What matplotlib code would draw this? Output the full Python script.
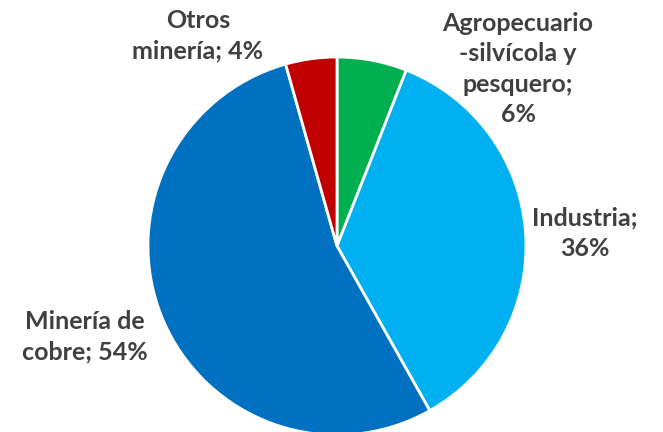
import matplotlib
matplotlib.use("Agg")
import matplotlib.pyplot as plt

# Share of sectors (percent)
labels = ["Agropecuario\n-silvícola y\npesquero;\n6%", "Industria;\n36%",
          "Minería de\ncobre; 54%", "Otros\nminería; 4%"]
values = [6, 36, 54, 4.4]
colors = ["#00B050", "#00B0F0", "#0070C0", "#C00000"]

W, H = 663, 432
fig = plt.figure(figsize=(W / 100, H / 100), dpi=100)
ax = fig.add_axes([0, 0, 1, 1])

cx, cy, r = 337, H - 246, 189
ax.pie(values, colors=colors, startangle=90, counterclock=False,
       center=(cx, cy), radius=r, frame=True,
       wedgeprops=dict(edgecolor="white", linewidth=2))
ax.set_xlim(0, W)
ax.set_ylim(0, H)
ax.set_aspect("equal")
ax.axis("off")

# label positions in pixel coords (from top-left)
label_pos = [(518, 69), (585, 233), (85, 337), (198, 36)]
for txt, (x, y) in zip(labels, label_pos):
    ax.text(x, H - y, txt, ha="center", va="center", fontsize=18,
            fontweight="bold", color="#404040", family="Lato",
            linespacing=1.4)

fig.savefig("out.png", dpi=100)
